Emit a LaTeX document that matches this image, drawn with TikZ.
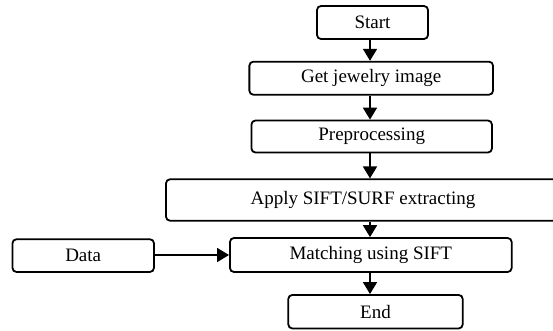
\documentclass[tikz,border=0pt]{standalone}
\usepackage{fontspec}
\setmainfont{Liberation Serif}
\usetikzlibrary{arrows.meta}
\begin{document}
\begin{tikzpicture}[x=1pt,y=-1pt,
  box/.style={draw,line width=1.8pt,rounded corners=4pt,inner sep=0pt,
    font=\fontsize{19}{22}\selectfont},
  arr/.style={line width=1.8pt,-{Triangle[width=14pt,length=12pt]}}]
\useasboundingbox (0,0) rectangle (553,330);
\clip (0,0) rectangle (553,330);
\coordinate (ax) at (370,0);
\node[box,minimum width=111pt,minimum height=33pt] (start) at (372.5,22.5) {Start};
\node[box,minimum width=243.7pt,minimum height=33pt] (get) at (371.2,78.2) {Get jewelry image};
\node[box,minimum width=240.5pt,minimum height=32pt] (prep) at (371.7,136.5) {Preprocessing};
\node[box,minimum width=394pt,minimum height=41.4pt] (apply) at (363,200) {Apply SIFT/SURF extracting};
\node[box,minimum width=281.7pt,minimum height=34pt] (match) at (370.8,255) {Matching using SIFT};
\node[box,minimum width=141.5pt,minimum height=32.7pt] (data) at (83.2,255.6) {Data};
\node[box,minimum width=174.4pt,minimum height=33.5pt] (end) at (375.5,311.7) {End};
\draw[arr] (start.south -| ax) -- (get.north -| ax);
\draw[arr] (get.south -| ax) -- (prep.north -| ax);
\draw[arr] (prep.south -| ax) -- (apply.north -| ax);
\draw[arr] (apply.south -| ax) -- (match.north -| ax);
\draw[arr] (match.south -| ax) -- (end.north -| ax);
\draw[arr] (data.east |- match.west) -- (match.west);
\end{tikzpicture}
\end{document}
